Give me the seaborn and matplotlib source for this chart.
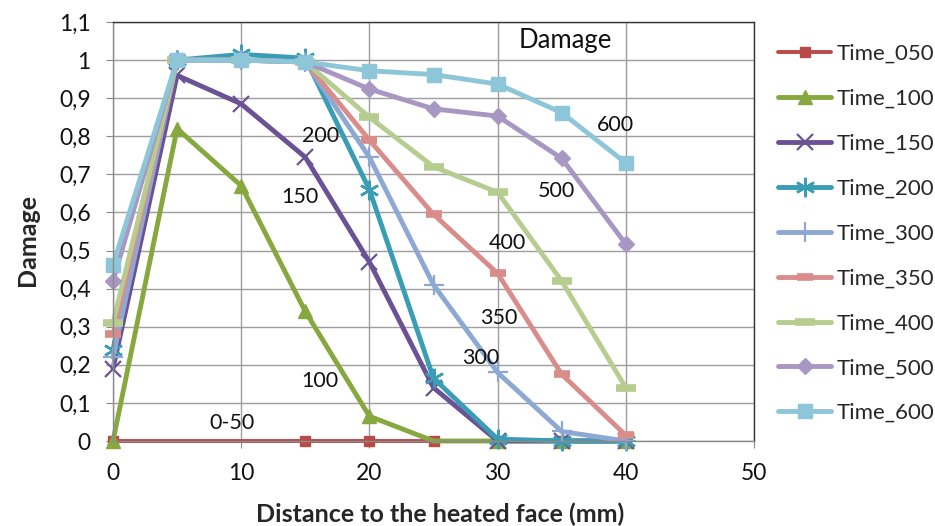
import matplotlib
matplotlib.use("Agg")
import matplotlib.pyplot as plt
import seaborn as sns
import numpy as np

# ---- data ----
distance = [0, 5, 10, 15, 20, 25, 30, 35, 40]
time_050 = [0, 0, 0, 0, 0, 0, 0, 0, 0]
time_100 = [0, 0.82, 0.67, 0.34, 0.065, 0, 0, 0, 0]
time_150 = [0.19, 0.96, 0.885, 0.745, 0.47, 0.14, 0, 0, 0]
time_200 = [0.24, 1.0, 1.015, 1.005, 0.66, 0.165, 0.005, 0, 0]
time_300 = [0.22, 1.0, 1.0, 0.995, 0.745, 0.41, 0.18, 0.025, 0]
time_350 = [0.28, 1.0, 1.0, 0.995, 0.79, 0.595, 0.44, 0.175, 0.015]
time_400 = [0.31, 1.0, 1.0, 0.995, 0.85, 0.72, 0.653, 0.42, 0.14]
time_500 = [0.42, 1.0, 1.0, 0.995, 0.924, 0.872, 0.853, 0.742, 0.517]
time_600 = [0.462, 1.0, 1.0, 0.995, 0.972, 0.962, 0.937, 0.862, 0.73]

series_names = ["Time_050", "Time_100", "Time_150", "Time_200", "Time_300",
                "Time_350", "Time_400", "Time_500", "Time_600"]
series_values = [time_050, time_100, time_150, time_200, time_300,
                 time_350, time_400, time_500, time_600]

curve_labels = ["0-50", "100", "150", "200", "300", "350", "400", "500", "600"]
curve_label_pos = [(9.3, 0.047), (16.1, 0.157), (14.6, 0.64), (16.2, 0.80),
                   (28.7, 0.218), (30.1, 0.323), (30.8, 0.52), (34.6, 0.656),
                   (39.2, 0.829)]
title_text = "Damage"
title_pos = (35.3, 1.052)

y_ticks = [round(0.1 * i, 1) for i in range(12)]
y_tick_labels = [("%g" % v).replace(".", ",") for v in y_ticks]
x_ticks = [0, 10, 20, 30, 40, 50]

# ---- styles ----
all_pts = list(range(9))
styles = [
    dict(color="#B94A48", marker="s", ms=7, lw=2.8, mew=1, every=[0, 3, 4, 5, 6, 7, 8]),
    dict(color="#86A83F", marker="^", ms=9.5, lw=3.5, mew=1, every=[0, 1, 2, 3, 4, 6, 7, 8]),
    dict(color="#6B5294", marker="x", ms=12, lw=3.5, mew=1.6, every=all_pts),
    dict(color="#3A9DB6", marker=(6, 2, 0), ms=14, lw=3.5, mew=1.8, every=all_pts),
    dict(color="#8EA8D4", marker="+", ms=14, lw=3.5, mew=1.6, every=all_pts),
    dict(color="#D98D8B", marker="_", ms=12, lw=3.5, mew=5.5, every=all_pts),
    dict(color="#B6CD8F", marker="_", ms=14, lw=3.5, mew=5.5, every=all_pts),
    dict(color="#A897C3", marker="D", ms=8.5, lw=3.5, mew=1, every=all_pts),
    dict(color="#8CC6D8", marker="s", ms=9.5, lw=3.5, mew=1, every=all_pts),
]

sns.set_style("white")
plt.rcParams["font.family"] = ["Lato", "DejaVu Sans"]

fig = plt.figure(figsize=(9.35, 5.26), dpi=100)
ax = fig.add_axes([113 / 935, 1 - 441 / 526, 641 / 935, 419 / 526])

for name, vals, st in zip(series_names, series_values, styles):
    sns.lineplot(x=distance, y=vals, ax=ax, label=name, color=st["color"],
                 marker=st["marker"], markersize=st["ms"], linewidth=st["lw"],
                 markeredgewidth=st["mew"], markeredgecolor=st["color"],
                 markerfacecolor=st["color"], markevery=st["every"],
                 clip_on=False, sort=False, estimator=None)

for txt, (tx, ty) in zip(curve_labels, curve_label_pos):
    ax.text(tx, ty, txt, ha="center", va="center", fontsize=15.5, color="#111111")
ax.text(title_pos[0], title_pos[1], title_text, ha="center", va="center",
        fontsize=18.5, color="#111111")

ax.set_xlim(0, 50)
ax.set_ylim(0, 1.1)
ax.set_xticks(x_ticks)
ax.set_yticks(y_ticks)
ax.set_yticklabels(y_tick_labels)
ax.grid(True, color="#9E9E9E", linewidth=1.0)
ax.set_axisbelow(True)
ax.tick_params(axis="both", which="major", labelsize=16.5, length=5,
               color="#8A8A8A", direction="out", labelcolor="#111111")
ax.tick_params(axis="y", pad=11)
ax.tick_params(axis="x", pad=11)
ax.tick_params(bottom=True, left=True)

for side in ["top", "right"]:
    ax.spines[side].set_color("#333333")
    ax.spines[side].set_linewidth(1.0)
for side in ["left", "bottom"]:
    ax.spines[side].set_color("#8A8A8A")
    ax.spines[side].set_linewidth(1.0)

ax.set_xlabel("Distance to the heated face (mm)", fontsize=18, fontweight="bold")
ax.set_ylabel("Damage", fontsize=18, fontweight="bold")
ax.xaxis.label.set_va("center")
ax.yaxis.label.set_va("center")
ax.xaxis.set_label_coords(0.51, -0.174)
ax.yaxis.set_label_coords(-0.134, 0.48)

leg = ax.legend(loc="upper left", bbox_to_anchor=(778 / 935, 1 - 44 / 526),
                bbox_transform=fig.transFigure, frameon=False, fontsize=16,
                handlelength=2.4, handletextpad=0.22, labelspacing=1.12,
                borderpad=0, borderaxespad=0)

fig.savefig("out.png", dpi=100)
